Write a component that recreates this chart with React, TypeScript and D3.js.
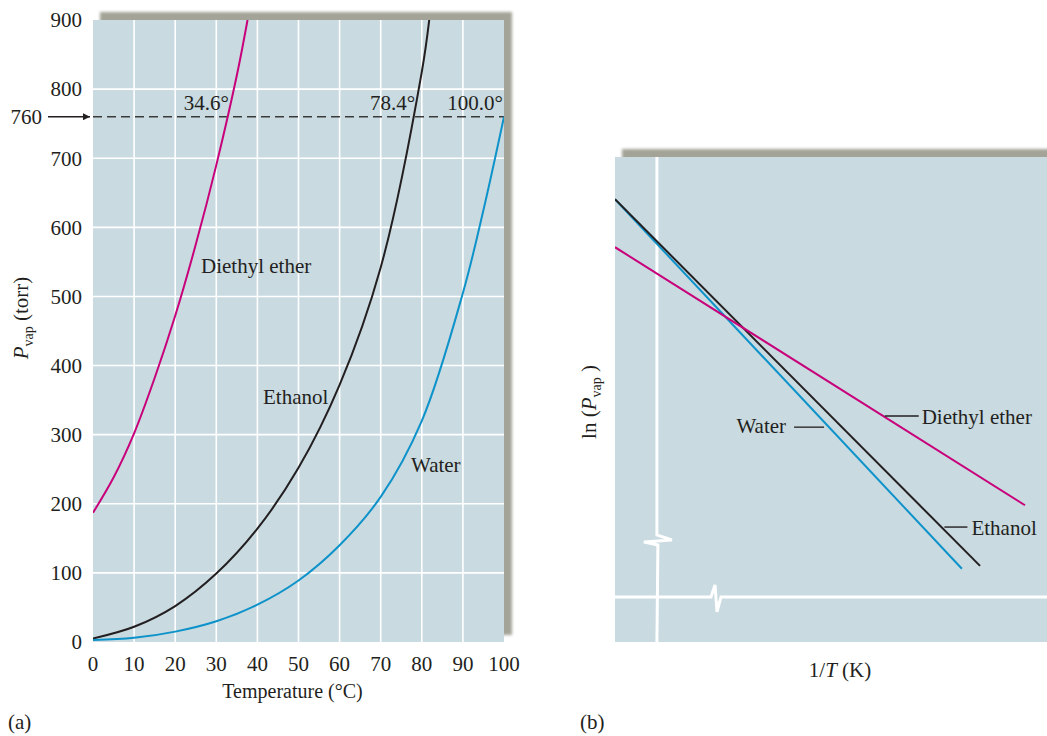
import React from "react";
import * as d3 from "d3";

// ---------- Panel (a) data: vapor pressure (torr) vs temperature (°C) ----------
const etherT = [0, 5, 10, 15, 20, 25, 30, 35, 37.6];
const etherP = [187, 238, 302, 382, 472, 575, 690, 820, 900];

const ethanolT = [0, 10, 20, 30, 40, 50, 60, 70, 80, 82];
const ethanolP = [5, 22, 52, 99, 164, 252, 372, 542, 825, 910];

const waterT = [0, 10, 20, 30, 40, 50, 60, 70, 80, 90, 95, 100];
const waterP = [3, 6, 15, 30, 54, 89, 140, 210, 320, 505, 625, 760];

const xTicksA = [0, 10, 20, 30, 40, 50, 60, 70, 80, 90, 100];
const yTicksA = [0, 100, 200, 300, 400, 500, 600, 700, 800, 900];
const boilingP = 760;
const boilingLabels = ["34.6°", "78.4°", "100.0°"];
const boilingT = [33.3, 78.6, 100];

// ---------- Panel (b) data: ln(Pvap) vs 1/T (arbitrary units, 0-100) ----------
const lnSeries = ["Water", "Ethanol", "Diethyl ether"];
const lnX0 = [0, 0, 0];
const lnY0 = [91.3, 91.3, 81.4];
const lnX1 = [80.3, 84.5, 94.9];
const lnY1 = [15.1, 15.7, 28.2];
const axisBX = 9.7; // vertical (broken) axis position
const axisBY = 9.3; // horizontal (broken) axis position

const COLORS = { ether: "#c8007a", ethanol: "#231f20", water: "#0d92c9" };
const BG = "#c9dae1";
const SHADOW = "#a3a398";
const TEXT = "#231f20";
const FONT = "'Liberation Serif', 'Times New Roman', serif";
const FS = 21;

export default function App() {
  // Panel (a) scales
  const xA = d3.scaleLinear().domain([0, 100]).range([93, 504]);
  const yA = d3.scaleLinear().domain([0, 900]).range([642, 20]);
  const lineA = d3
    .line<[number, number]>()
    .x((d) => xA(d[0]))
    .y((d) => yA(d[1]))
    .curve(d3.curveCatmullRom.alpha(0.5));
  const zip = (t: number[], p: number[]) => t.map((v, i) => [v, p[i]] as [number, number]);

  // Panel (b) scales
  const xB = d3.scaleLinear().domain([0, 100]).range([615, 1047]);
  const yB = d3.scaleLinear().domain([0, 100]).range([642, 157]);
  const lnColors = [COLORS.water, COLORS.ethanol, COLORS.ether];

  const pointOn = (i: number, yv: number) => {
    const t = (lnY0[i] - yv) / (lnY0[i] - lnY1[i]);
    return [lnX0[i] + t * (lnX1[i] - lnX0[i]), yv];
  };

  const ax = xB(axisBX);
  const ay = yB(axisBY);
  const vBreakY = 535;
  const hBreakX = 711;

  const [waterLx, waterLy] = pointOn(0, 44.5);
  const [ethLx, ethLy] = pointOn(1, 23.7);
  const [ethrLx, ethrLy] = pointOn(2, 46.4);

  return (
    <svg
      width={1047}
      height={736}
      style={{ position: "absolute", left: 0, top: 0, background: "#fff" }}
      fontFamily={FONT}
    >
      <defs>
        <filter id="blur" x="-10%" y="-10%" width="120%" height="120%">
          <feGaussianBlur stdDeviation="1.8" />
        </filter>
        <clipPath id="clipA">
          <rect x={xA(0)} y={yA(900)} width={xA(100) - xA(0)} height={yA(0) - yA(900)} />
        </clipPath>
        <clipPath id="clipB">
          <rect x={xB(0)} y={yB(100)} width={xB(100) - xB(0)} height={yB(0) - yB(100)} />
        </clipPath>
        <marker id="arrow" viewBox="0 0 10 10" refX="10" refY="5" markerWidth="10" markerHeight="7" markerUnits="userSpaceOnUse" orient="auto">
          <path d="M0,0 L10,5 L0,10 z" fill={TEXT} />
        </marker>
      </defs>

      {/* ================= Panel (a) ================= */}
      <rect x={xA(0) + 7} y={yA(900) - 8} width={xA(100) - xA(0) + 1} height={yA(0) - yA(900) + 1} fill={SHADOW} filter="url(#blur)" />
      <rect x={xA(0)} y={yA(900)} width={xA(100) - xA(0)} height={yA(0) - yA(900)} fill={BG} />
      {xTicksA.slice(1, -1).map((t) => (
        <line key={"gx" + t} x1={xA(t)} x2={xA(t)} y1={yA(0)} y2={yA(900)} stroke="#fff" strokeWidth={1.6} />
      ))}
      {yTicksA.slice(1, -1).map((t) => (
        <line key={"gy" + t} x1={xA(0)} x2={xA(100)} y1={yA(t)} y2={yA(t)} stroke="#fff" strokeWidth={1.6} />
      ))}
      <line x1={xA(0)} x2={xA(100)} y1={yA(boilingP)} y2={yA(boilingP)} stroke="#3a3a3a" strokeWidth={1.4} strokeDasharray="9,5" />
      <g clipPath="url(#clipA)" fill="none" strokeWidth={2}>
        <path d={lineA(zip(etherT, etherP)) || ""} stroke={COLORS.ether} />
        <path d={lineA(zip(ethanolT, ethanolP)) || ""} stroke={COLORS.ethanol} />
        <path d={lineA(zip(waterT, waterP)) || ""} stroke={COLORS.water} />
      </g>
      {boilingLabels.map((l, i) => (
        <text key={l} x={xA(boilingT[i]) - 1} y={yA(boilingP) - 7} textAnchor="end" fontSize={FS} fill={TEXT}>
          {l}
        </text>
      ))}
      <text x={201} y={273} fontSize={FS} fill={TEXT}>Diethyl ether</text>
      <text x={263} y={404} fontSize={FS} fill={TEXT}>Ethanol</text>
      <text x={411} y={472} fontSize={FS} fill={TEXT}>Water</text>

      {xTicksA.map((t) => (
        <text key={"tx" + t} x={xA(t)} y={671} textAnchor="middle" fontSize={FS} fill={TEXT}>
          {t}
        </text>
      ))}
      {yTicksA.map((t) => (
        <text key={"ty" + t} x={82} y={yA(t)} dy="0.35em" textAnchor="end" fontSize={FS} fill={TEXT}>
          {t}
        </text>
      ))}
      <text x={42} y={yA(boilingP)} dy="0.35em" textAnchor="end" fontSize={FS} fill={TEXT}>
        {boilingP}
      </text>
      <line x1={48} x2={90} y1={yA(boilingP)} y2={yA(boilingP)} stroke={TEXT} strokeWidth={1.3} markerEnd="url(#arrow)" />
      <text x={xA(50) - 6} y={698} textAnchor="middle" fontSize={20} fill={TEXT}>
        Temperature (°C)
      </text>
      <text transform={`translate(28,${318}) rotate(-90)`} textAnchor="middle" fontSize={FS} fill={TEXT}>
        <tspan fontStyle="italic">P</tspan>
        <tspan fontSize={14} dy={5}>vap</tspan>
        <tspan dy={-5}> (torr)</tspan>
      </text>
      <text x={8} y={729} fontSize={FS} fill={TEXT}>(a)</text>

      {/* ================= Panel (b) ================= */}
      <rect x={xB(0) + 7} y={yB(100) - 8} width={xB(100) - xB(0)} height={40} fill={SHADOW} filter="url(#blur)" />
      <rect x={xB(0)} y={yB(100)} width={xB(100) - xB(0)} height={yB(0) - yB(100)} fill={BG} />
      <g clipPath="url(#clipB)" fill="none" stroke="#fff" strokeWidth={3}>
        <path
          d={`M${ax},${yB(100)} L${ax},${vBreakY} L${ax + 15},${vBreakY + 5} L${ax - 13},${vBreakY + 7} L${ax + 1},${vBreakY + 10} L${ax},${yB(0)}`}
          strokeLinejoin="miter"
        />
        <path
          d={`M${xB(0)},${ay} L${hBreakX},${ay} L${hBreakX + 4},${ay - 12} L${hBreakX + 6},${ay + 15} L${hBreakX + 10},${ay} L${xB(100)},${ay}`}
        />
      </g>
      <g clipPath="url(#clipB)" fill="none" strokeWidth={2}>
        {lnSeries.map((s, i) => (
          <line key={s} x1={xB(lnX0[i])} y1={yB(lnY0[i])} x2={xB(lnX1[i])} y2={yB(lnY1[i])} stroke={lnColors[i]} />
        ))}
      </g>
      {/* labels with leaders */}
      <line x1={xB(waterLx) - 34} x2={xB(waterLx) - 4} y1={yB(waterLy) + 1} y2={yB(waterLy) + 1} stroke="#444" strokeWidth={1.6} />
      <text x={xB(waterLx) - 42} y={yB(waterLy) + 7} textAnchor="end" fontSize={FS} fill={TEXT}>{lnSeries[0]}</text>
      <line x1={xB(ethLx) + 3} x2={xB(ethLx) + 26} y1={yB(ethLy)} y2={yB(ethLy)} stroke={TEXT} strokeWidth={1.4} />
      <text x={xB(ethLx) + 30} y={yB(ethLy) + 8} fontSize={FS} fill={TEXT}>{lnSeries[1]}</text>
      <line x1={xB(ethrLx)} x2={xB(ethrLx) + 34} y1={yB(ethrLy) - 1} y2={yB(ethrLy) - 1} stroke={TEXT} strokeWidth={1.4} />
      <text x={xB(ethrLx) + 37} y={yB(ethrLy) + 7} fontSize={FS} fill={TEXT}>{lnSeries[2]}</text>

      <text x={840} y={677} textAnchor="middle" fontSize={FS} fill={TEXT}>
        <tspan>1/</tspan>
        <tspan fontStyle="italic">T</tspan>
        <tspan> (K)</tspan>
      </text>
      <text transform={`translate(596,402) rotate(-90)`} textAnchor="middle" fontSize={FS} fill={TEXT}>
        <tspan>ln (</tspan>
        <tspan fontStyle="italic">P</tspan>
        <tspan fontSize={14} dy={5}>vap</tspan>
        <tspan dy={-5}> )</tspan>
      </text>
      <text x={580} y={729} fontSize={FS} fill={TEXT}>(b)</text>
    </svg>
  );
}
